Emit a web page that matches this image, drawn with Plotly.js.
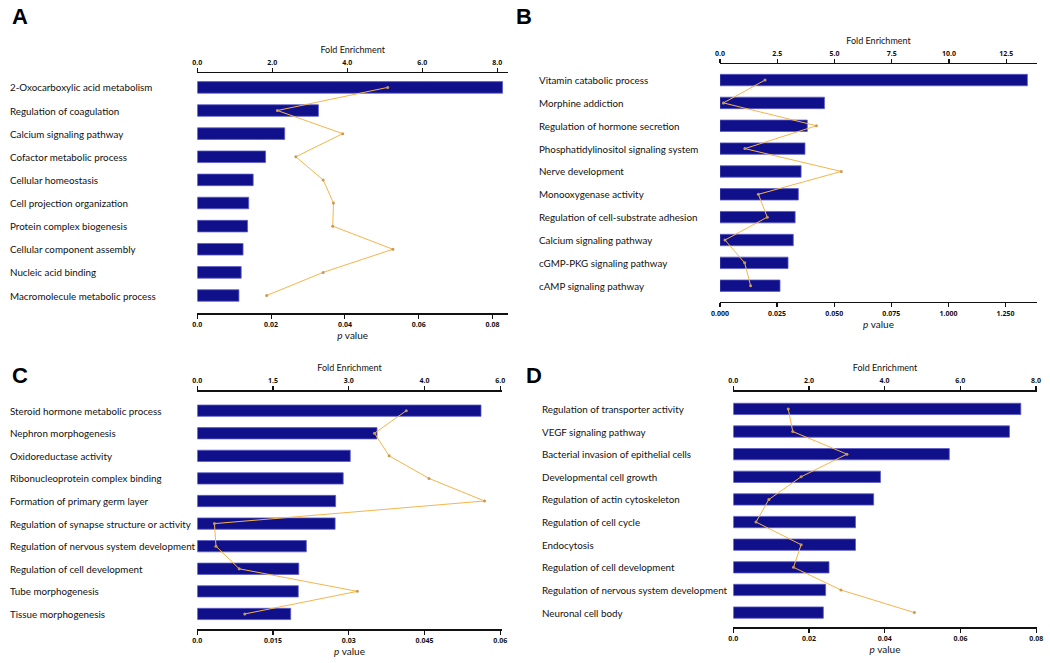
<!DOCTYPE html>
<html>
<head>
<meta charset="utf-8">
<script src="https://cdn.plot.ly/plotly-3.0.1.min.js"></script>
<style>
  html, body { margin: 0; padding: 0; background: #fff; }
  #chart { width: 1050px; height: 663px; }
</style>
</head>
<body>
<div id="chart"></div>
<script>
// Panel A
const catsA = ["2-Oxocarboxylic acid metabolism", "Regulation of coagulation", "Calcium signaling pathway",
  "Cofactor metabolic process", "Cellular homeostasis", "Cell projection organization",
  "Protein complex biogenesis", "Cellular component assembly", "Nucleic acid binding",
  "Macromolecule metabolic process"];
const foldA = [8.14, 3.23, 2.33, 1.82, 1.49, 1.37, 1.34, 1.22, 1.17, 1.11];
const pA = [0.0516, 0.0217, 0.0394, 0.0267, 0.0341, 0.0369, 0.0367, 0.0530, 0.0341, 0.0188];

// Panel B
const catsB = ["Vitamin catabolic process", "Morphine addiction", "Regulation of hormone secretion",
  "Phosphatidylinositol signaling system", "Nerve development", "Monooxygenase activity",
  "Regulation of cell-substrate adhesion", "Calcium signaling pathway", "cGMP-PKG signaling pathway",
  "cAMP signaling pathway"];
const foldB = [13.42, 4.56, 3.81, 3.71, 3.54, 3.42, 3.28, 3.20, 2.97, 2.62];
const pB = [0.0197, 0.0015, 0.0422, 0.0109, 0.0531, 0.0168, 0.0207, 0.0022, 0.0108, 0.0134];

// Panel C
const catsC = ["Steroid hormone metabolic process", "Nephron morphogenesis", "Oxidoreductase activity",
  "Ribonucleoprotein complex binding", "Formation of primary germ layer",
  "Regulation of synapse structure or activity", "Regulation of nervous system development",
  "Regulation of cell development", "Tube morphogenesis", "Tissue morphogenesis"];
const foldC = [5.62, 3.56, 3.03, 2.89, 2.74, 2.73, 2.16, 2.01, 2.00, 1.85];
const pC = [0.0414, 0.0351, 0.0380, 0.0459, 0.0569, 0.0034, 0.0037, 0.0083, 0.0317, 0.0094];

// Panel D
const catsD = ["Regulation of transporter activity", "VEGF signaling pathway",
  "Bacterial invasion of epithelial cells", "Developmental cell growth",
  "Regulation of actin cytoskeleton", "Regulation of cell cycle", "Endocytosis",
  "Regulation of cell development", "Regulation of nervous system development", "Neuronal cell body"];
const foldD = [7.60, 7.30, 5.71, 3.89, 3.71, 3.23, 3.23, 2.53, 2.44, 2.38];
const pD = [0.0145, 0.0157, 0.0300, 0.0179, 0.0094, 0.0060, 0.0179, 0.0159, 0.0284, 0.0478];

// tick labels
const foldTicksB = [0, 2.5, 5, 7.5, 10, 12.5];
const pTicksA = [0, 0.02, 0.04, 0.06, 0.08], pTextA = ["0.0", "0.02", "0.04", "0.06", "0.08"];
const pTicksB = [0, 0.025, 0.05, 0.075, 0.1, 0.125], pTextB = ["0.000", "0.025", "0.050", "0.075", "1.000", "1.250"];
const foldTicksC = [0, 1.5, 3, 4.5, 6], foldTextC = ["0.0", "1.5", "3.0", "4.0", "6.0"];
const pTicksC = [0, 0.015, 0.03, 0.045, 0.06], pTextC = ["0.0", "0.015", "0.03", "0.045", "0.06"];
const pTicksD = [0, 0.02, 0.04, 0.06, 0.08], pTextD = ["0.0", "0.02", "0.04", "0.06", "0.08"];

const W = 1050, H = 663;
const BAR = "#10108a", LINE = "#f6b44a";

const panels = [
  {cats: catsA, fold: foldA, p: pA, letter: "A", lx: 8, letterX: 10,
   xd: [197.3, 508], yd: [73.3, 313.3], yr: [9.77, -0.61], fr: 8.285, pr: 0.0842,
   ftv: [0, 2, 4, 6, 8], ftt: ["0.0", "2.0", "4.0", "6.0", "8.0"], ptv: pTicksA, ptt: pTextA},
  {cats: catsB, fold: foldB, p: pB, letter: "B", lx: 537, letterX: 514,
   xd: [720, 1037], yd: [64.3, 301.7], yr: [9.70, -0.69], fr: 13.84, pr: 0.1388,
   ftv: foldTicksB, ftt: ["0.0", "2.5", "5.0", "7.5", "10.0", "12.5"], ptv: pTicksB, ptt: pTextB},
  {cats: catsC, fold: foldC, p: pC, letter: "C", lx: 8, letterX: 10,
   xd: [197.3, 501.7], yd: [391.7, 629.3], yr: [9.68, -0.84], fr: 6.03, pr: 0.0603,
   ftv: foldTicksC, ftt: foldTextC, ptv: pTicksC, ptt: pTextC},
  {cats: catsD, fold: foldD, p: pD, letter: "D", lx: 540, letterX: 524,
   xd: [733.3, 1036.7], yd: [391.7, 627.3], yr: [9.65, -0.76], fr: 8.02, pr: 0.0801,
   ftv: [0, 2, 4, 6, 8], ftt: ["0.0", "2.0", "4.0", "6.0", "8.0"], ptv: pTicksD, ptt: pTextD}
];

const data = [];
const layout = {
  width: W, height: H,
  margin: {l: 0, r: 0, t: 0, b: 0},
  paper_bgcolor: "#fff", plot_bgcolor: "#fff",
  showlegend: false,
  font: {family: "Lato, 'Open Sans', sans-serif", color: "#111"},
  annotations: []
};

const tickFont = {family: "'Open Sans', sans-serif", size: 7, weight: "bold", color: "#111"};

panels.forEach((pn, i) => {
  const fx = "x" + (i === 0 ? "" : 2 * i + 1);
  const px = "x" + (2 * i + 2);
  const yy = "y" + (i === 0 ? "" : i + 1);
  const fxName = "xaxis" + (i === 0 ? "" : 2 * i + 1);
  const pxName = "xaxis" + (2 * i + 2);
  const yName = "yaxis" + (i === 0 ? "" : i + 1);

  data.push({
    type: "bar", orientation: "h", y: pn.cats, x: pn.fold,
    xaxis: fx, yaxis: yy, width: 0.5,
    marker: {color: BAR, line: {color: "#5c5cc8", width: 0.8}},
    hoverinfo: "x+y"
  });
  data.push({
    type: "scatter", mode: "lines+markers", y: pn.cats, x: pn.p,
    xaxis: px, yaxis: yy,
    line: {color: LINE, width: 1},
    marker: {size: 3, color: "#c99a55"},
    hoverinfo: "x+y"
  });

  const dom = [pn.xd[0] / W, pn.xd[1] / W];
  layout[fxName] = {
    domain: dom, anchor: yy, side: "top", range: [0, pn.fr],
    showline: true, linecolor: "#111", linewidth: 1.5,
    ticks: "outside", ticklen: 4, tickwidth: 1.2, tickcolor: "#111",
    tickvals: pn.ftv, ticktext: pn.ftt, tickfont: tickFont,
    showgrid: false, zeroline: false,
    title: {text: "Fold Enrichment", font: {size: 9, color: "#111"}, standoff: 3}
  };
  layout[pxName] = {
    domain: dom, anchor: yy, overlaying: fx, side: "bottom", range: [0, pn.pr],
    showline: true, linecolor: "#111", linewidth: 1.5,
    ticks: "outside", ticklen: 4, tickwidth: 1.2, tickcolor: "#111",
    tickvals: pn.ptv, ticktext: pn.ptt, tickfont: tickFont,
    showgrid: false, zeroline: false,
    title: {text: "<i>p</i> value", font: {size: 10, color: "#111"}, standoff: 2}
  };
  layout[yName] = {
    domain: [1 - pn.yd[1] / H, 1 - pn.yd[0] / H], anchor: fx,
    type: "category", range: pn.yr,
    showline: false, showticklabels: false, ticks: "",
    showgrid: false, zeroline: false
  };

  pn.cats.forEach(c => {
    layout.annotations.push({
      xref: "paper", yref: yy, x: pn.lx / W, y: c, xanchor: "left", yanchor: "middle",
      text: c, showarrow: false, font: {size: 9.8, color: "#111"}
    });
  });

  const letterY = i < 2 ? 16 : 375;
  layout.annotations.push({
    xref: "paper", yref: "paper", x: pn.letterX / W, y: 1 - letterY / H,
    xanchor: "left", yanchor: "middle", text: "<b>" + pn.letter + "</b>", showarrow: false,
    font: {family: "'Liberation Sans', Arial, sans-serif", size: 22, color: "#000"}
  });
});

Plotly.newPlot("chart", data, layout, {displayModeBar: false, staticPlot: true});
</script>
</body>
</html>
